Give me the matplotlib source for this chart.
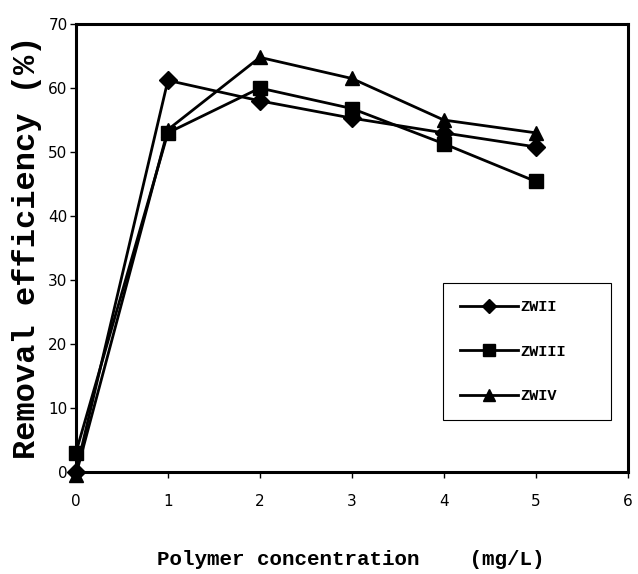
import matplotlib
matplotlib.use("Agg")
import matplotlib.pyplot as plt

conc = [0, 1, 2, 3, 4, 5]
zwii = [0, 61.2, 58.0, 55.3, 53.0, 50.8]
zwiii = [3.0, 53.0, 60.0, 56.8, 51.3, 45.4]
zwiv = [-0.5, 53.5, 64.8, 61.5, 55.0, 53.0]
labels = ["ZWII", "ZWIII", "ZWIV"]

fig = plt.figure(figsize=(6.38, 5.74), dpi=100)
ax = fig.add_axes([0.119, 0.178, 0.865, 0.780])

ax.plot(conc, zwii, color="black", lw=2, marker="D", ms=9, label=labels[0], clip_on=False, zorder=3)
ax.plot(conc, zwiii, color="black", lw=2, marker="s", ms=10, label=labels[1], clip_on=False, zorder=3)
ax.plot(conc, zwiv, color="black", lw=2, marker="^", ms=10, label=labels[2], clip_on=False, zorder=3)

ax.set_xlim(0, 6)
ax.set_ylim(0, 70)
ax.set_xticks(range(0, 7))
ax.set_yticks(range(0, 71, 10))
for s in ax.spines.values():
    s.set_linewidth(2.2)
ax.tick_params(direction="out", length=4, width=1, labelsize=11, pad=12, axis="x")
ax.tick_params(direction="out", length=4, width=1, labelsize=11, pad=2, axis="y")

fig.text(0.042, 0.569, "Removal efficiency (%)", family="Liberation Mono", fontweight="bold",
         fontsize=23, rotation=90, ha="center", va="center")
fig.text(0.549, 0.026, "Polymer concentration    (mg/L)", family="Liberation Mono", fontweight="bold",
         fontsize=15, ha="center", va="center")

leg = ax.legend(loc="lower left", bbox_to_anchor=(0.665, 0.116, 0.305, 0.305), mode="expand",
                borderaxespad=0, fancybox=False, edgecolor="black", framealpha=1,
                borderpad=1.1, labelspacing=2.0, handlelength=3.8, handletextpad=0.2,
                prop={"family": "Liberation Mono", "weight": "bold", "size": 11},
                markerscale=0.8)
leg.get_frame().set_linewidth(0.8)

fig.savefig("out.png", dpi=100)
